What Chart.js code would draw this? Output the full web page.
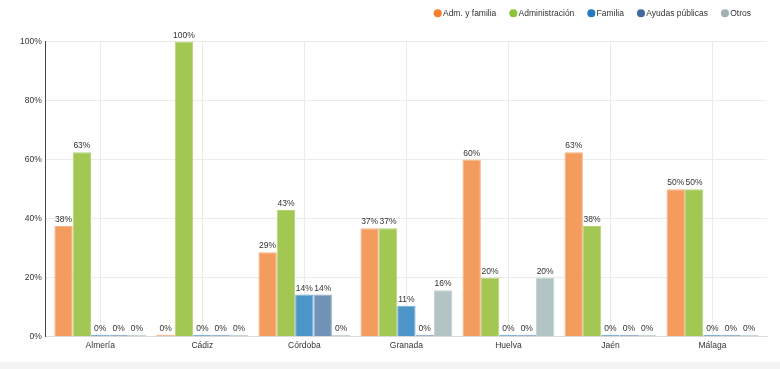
<!DOCTYPE html>
<html>
<head>
<meta charset="utf-8">
<script src="https://cdn.jsdelivr.net/npm/chart.js@4.4.1/dist/chart.umd.min.js"></script>
<style>
  html, body { margin: 0; padding: 0; background: #f4f4f4; }
  #wrap { width: 780px; height: 362px; background: #ffffff; position: relative; }
  canvas { display: block; }
</style>
</head>
<body>
<div id="wrap"><canvas id="c" width="780" height="362"></canvas></div>
<script>
const categories = ["Almería", "Cádiz", "Córdoba", "Granada", "Huelva", "Jaén", "Málaga"];
const seriesNames = ["Adm. y familia", "Administración", "Familia", "Ayudas públicas", "Otros"];
const admFamilia     = [37.5, 0, 28.6, 36.8, 60, 62.5, 50];
const administracion = [62.5, 100, 42.9, 36.8, 20, 37.5, 50];
const familia        = [0, 0, 14.3, 10.5, 0, 0, 0];
const ayudas         = [0, 0, 14.3, 0, 0, 0, 0];
const otros          = [0, 0, 0, 15.8, 20, 0, 0];
const yTicks = [0, 20, 40, 60, 80, 100];

const barColors    = ["#f49b5e", "#a2c752", "#4d94c9", "#7193b8", "#b2c4c4"];
const borderColors = ["#f7b386", "#b5d27a", "#74acd6", "#90a9c6", "#c4d2d2"];
const legendColors = ["#f47f2f", "#8cc43c", "#1f7ac3", "#43689e", "#9fb1b1"];
const allSeries = [admFamilia, administracion, familia, ayudas, otros];

const FONT = "'Liberation Sans', Arial, sans-serif";
const TXT = "#333333";

const valueLabels = {
  id: "valueLabels",
  afterDatasetsDraw(chart) {
    const ctx = chart.ctx;
    ctx.save();
    ctx.font = "8.5px " + FONT;
    ctx.fillStyle = TXT;
    ctx.textAlign = "center";
    ctx.textBaseline = "bottom";
    chart.data.datasets.forEach((ds, i) => {
      const meta = chart.getDatasetMeta(i);
      meta.data.forEach((el, j) => {
        const v = ds.data[j];
        ctx.fillText(Math.round(v) + "%", el.x, el.y - 2);
      });
    });
    ctx.restore();
  }
};

const legendSpace = {
  id: "legendSpace",
  beforeInit(chart) {
    const orig = chart.legend.fit;
    chart.legend.fit = function () {
      orig.bind(chart.legend)();
      this.height += 14;
    };
  }
};

const xInset = {
  id: "xInset",
  beforeLayout(chart) {
    const s = chart.scales.x;
    if (s && !s._insetPatched) {
      const orig = s.configure;
      s.configure = function () {
        orig.call(this);
        this._startPixel += 3.5;
        this._endPixel -= 3.5;
        this._length = this._endPixel - this._startPixel;
      };
      s._insetPatched = true;
    }
  }
};

new Chart(document.getElementById("c"), {
  type: "bar",
  data: {
    labels: categories,
    datasets: allSeries.map((d, i) => ({
      label: seriesNames[i],
      data: d,
      backgroundColor: barColors[i],
      borderColor: borderColors[i],
      borderWidth: 1,
      minBarLength: 2,
      categoryPercentage: 0.9,
      barPercentage: 1.0
    }))
  },
  options: {
    responsive: false,
    animation: false,
    layout: { padding: { left: 16, right: 13, top: -7, bottom: 7 } },
    plugins: {
      legend: {
        position: "top",
        align: "end",
        labels: {
          usePointStyle: true,
          pointStyle: "circle",
          boxWidth: 2,
          boxHeight: 5.7,
          padding: 16,
          color: TXT,
          font: { family: FONT, size: 8.5 },
          generateLabels(chart) {
            const items = Chart.defaults.plugins.legend.labels.generateLabels(chart);
            items.forEach((it, i) => {
              it.fillStyle = legendColors[i];
              it.strokeStyle = legendColors[i];
              it.lineWidth = 0;
            });
            return items;
          }
        }
      },
      tooltip: { enabled: false }
    },
    scales: {
      x: {
        grid: { offset: false, color: "#ebebeb", drawTicks: false },
        border: { color: "#dddddd" },
        ticks: { color: TXT, font: { family: FONT, size: 8.5 }, padding: 4 }
      },
      y: {
        min: 0,
        max: 100,
        afterBuildTicks(scale) { scale.ticks = yTicks.map(v => ({ value: v })); },
        grid: { color: "#ebebeb", drawTicks: false },
        border: { color: "#444444", width: 1 },
        ticks: {
          color: TXT,
          font: { family: FONT, size: 8.5 },
          padding: 4,
          callback: v => v + "%"
        }
      }
    }
  },
  plugins: [valueLabels, legendSpace, xInset]
});
</script>
</body>
</html>
